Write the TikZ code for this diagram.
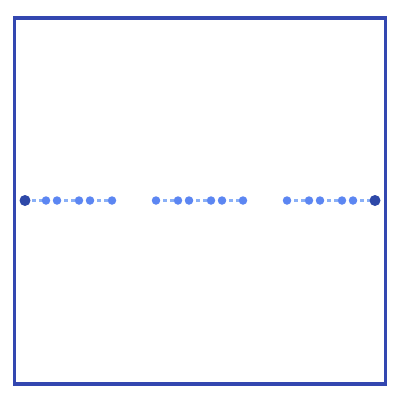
\documentclass[tikz,border=0pt]{standalone}
\definecolor{framec}{HTML}{3347B0}
\definecolor{dotc}{HTML}{5C86F2}
\definecolor{endc}{HTML}{2E48A8}
\definecolor{linkc}{HTML}{8AB0F7}
\tikzset{
  pt/.style={circle,fill=dotc,inner sep=0pt,minimum size=8.5pt},
  endpt/.style={circle,fill=endc,inner sep=0pt,minimum size=11pt},
  link/.style={draw=linkc,line width=3pt,dash pattern=on 4pt off 3pt},
}
\begin{document}
\begin{tikzpicture}[x=1pt,y=-1pt]
\useasboundingbox (0,0) rectangle (400,400);
\draw[framec,line width=3.2pt] (14.5,18) rectangle (385.5,384);
\foreach \u/\x/\v/\y in {s/25/a/46,b/57/c/79,d/90/e/112,f/156/g/178,h/189/i/211,j/222/k/243,l/287/m/309,n/320/o/342,p/353/t/375}
  \coordinate (\u c) at (\x,200.5) coordinate (\v c) at (\y,200.5);
\foreach \u/\v in {s/a,b/c,d/e,f/g,h/i,j/k,l/m,n/o,p/t}
  \draw[link] (\u c) -- (\v c);
\foreach \n in {a,b,c,d,e,f,g,h,i,j,k,l,m,n,o,p}
  \node[pt] (\n) at (\n c) {};
\node[endpt] (s) at (sc) {};
\node[endpt] (t) at (tc) {};
\end{tikzpicture}
\end{document}
